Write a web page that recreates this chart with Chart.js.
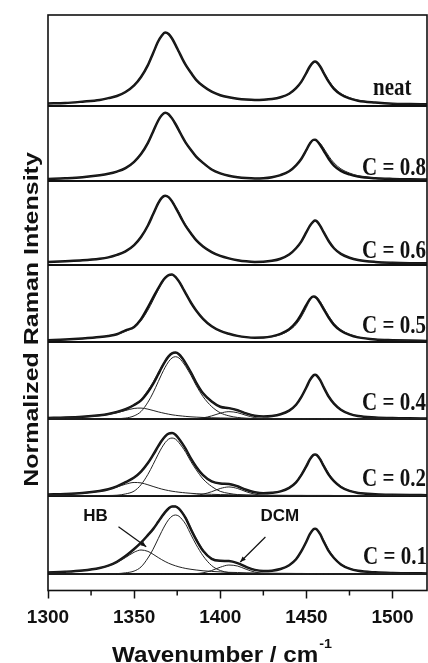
<!DOCTYPE html>
<html>
<head>
<meta charset="utf-8">
<script src="https://cdn.jsdelivr.net/npm/chart.js@4.4.1/dist/chart.umd.min.js"></script>
<style>
  html, body { margin: 0; padding: 0; background: #fff; }
  canvas { display: block; }
</style>
</head>
<body>
<canvas id="ramanChart" width="428" height="663"></canvas>
<script>
// Raman shift grid (cm-1) shared by every trace
const wavenumber = [
  1300, 1310, 1320, 1330, 1335, 1340, 1345, 1350, 1354, 1358,
  1361, 1364, 1366, 1368, 1370, 1372, 1374, 1376, 1378, 1380,
  1383, 1386, 1390, 1395, 1400, 1405, 1410, 1415, 1420, 1425,
  1430, 1435, 1440, 1444, 1447, 1450, 1452, 1454, 1455, 1456,
  1458, 1460, 1463, 1466, 1470, 1475, 1480, 1490, 1500, 1510,
  1520
];
const majorTicks = [1300, 1350, 1400, 1450, 1500];
const minorTicks = [1325, 1375, 1425, 1475];
const panelLabels = ['neat', 'C = 0.8', 'C = 0.6', 'C = 0.5', 'C = 0.4', 'C = 0.2', 'C = 0.1'];

// measured spectra (thick) and fits (thin), normalized intensity
const neatSpec = [
  0.032, 0.038, 0.058, 0.083, 0.108, 0.138, 0.195, 0.290, 0.410, 0.580,
  0.750, 0.920, 1.000, 1.045, 1.025, 0.960, 0.870, 0.770, 0.670, 0.580,
  0.470, 0.370, 0.280, 0.200, 0.150, 0.120, 0.100, 0.088, 0.082, 0.085,
  0.095, 0.120, 0.170, 0.250, 0.340, 0.470, 0.560, 0.620, 0.630, 0.620,
  0.560, 0.470, 0.340, 0.240, 0.160, 0.105, 0.072, 0.045, 0.028, 0.024,
  0.021
];
const neatFit = [
  0.030, 0.040, 0.056, 0.082, 0.106, 0.140, 0.195, 0.285, 0.405, 0.575,
  0.745, 0.915, 0.995, 1.040, 1.020, 0.960, 0.875, 0.775, 0.675, 0.585,
  0.475, 0.375, 0.282, 0.200, 0.150, 0.118, 0.098, 0.087, 0.082, 0.084,
  0.094, 0.118, 0.168, 0.248, 0.338, 0.465, 0.555, 0.615, 0.625, 0.618,
  0.565, 0.480, 0.360, 0.260, 0.175, 0.115, 0.078, 0.045, 0.030, 0.023,
  0.020
];
const c08Spec = [
  0.025, 0.035, 0.050, 0.078, 0.098, 0.130, 0.180, 0.270, 0.380, 0.540,
  0.700, 0.860, 0.935, 0.970, 0.950, 0.890, 0.810, 0.720, 0.625, 0.540,
  0.440, 0.345, 0.255, 0.160, 0.105, 0.070, 0.050, 0.038, 0.032, 0.035,
  0.050, 0.080, 0.135, 0.220, 0.310, 0.440, 0.530, 0.583, 0.585, 0.572,
  0.510, 0.430, 0.310, 0.215, 0.140, 0.090, 0.060, 0.035, 0.025, 0.020,
  0.018
];
const c08Fit = [
  0.024, 0.034, 0.050, 0.077, 0.097, 0.128, 0.178, 0.268, 0.378, 0.538,
  0.700, 0.860, 0.935, 0.968, 0.950, 0.892, 0.815, 0.725, 0.630, 0.545,
  0.443, 0.348, 0.257, 0.162, 0.105, 0.070, 0.050, 0.038, 0.032, 0.034,
  0.048, 0.078, 0.130, 0.215, 0.305, 0.435, 0.528, 0.580, 0.585, 0.580,
  0.535, 0.465, 0.350, 0.255, 0.170, 0.110, 0.072, 0.040, 0.026, 0.020,
  0.018
];
const c06Spec = [
  0.040, 0.050, 0.062, 0.085, 0.105, 0.140, 0.190, 0.280, 0.395, 0.560,
  0.720, 0.880, 0.955, 0.985, 0.965, 0.905, 0.820, 0.730, 0.635, 0.550,
  0.445, 0.350, 0.260, 0.180, 0.125, 0.090, 0.065, 0.048, 0.040, 0.042,
  0.055, 0.085, 0.145, 0.235, 0.330, 0.465, 0.555, 0.615, 0.630, 0.620,
  0.555, 0.465, 0.335, 0.235, 0.155, 0.100, 0.068, 0.040, 0.028, 0.022,
  0.020
];
const c06Fit = [
  0.038, 0.048, 0.060, 0.083, 0.103, 0.138, 0.188, 0.278, 0.392, 0.556,
  0.716, 0.876, 0.952, 0.984, 0.968, 0.915, 0.835, 0.748, 0.652, 0.565,
  0.458, 0.360, 0.266, 0.183, 0.126, 0.090, 0.065, 0.048, 0.040, 0.042,
  0.055, 0.084, 0.142, 0.230, 0.325, 0.460, 0.552, 0.613, 0.628, 0.620,
  0.560, 0.472, 0.342, 0.240, 0.158, 0.102, 0.069, 0.040, 0.028, 0.022,
  0.020
];
const c05Spec = [
  0.030, 0.040, 0.055, 0.075, 0.090, 0.115, 0.170, 0.220, 0.330, 0.500,
  0.640, 0.770, 0.855, 0.920, 0.960, 0.968, 0.935, 0.870, 0.785, 0.695,
  0.565, 0.455, 0.335, 0.228, 0.162, 0.122, 0.092, 0.074, 0.066, 0.068,
  0.085, 0.120, 0.185, 0.285, 0.400, 0.535, 0.615, 0.655, 0.650, 0.630,
  0.560, 0.475, 0.350, 0.250, 0.165, 0.105, 0.070, 0.040, 0.030, 0.024,
  0.020
];
const c05Fit = [
  0.028, 0.038, 0.052, 0.073, 0.089, 0.115, 0.155, 0.220, 0.310, 0.460,
  0.600, 0.750, 0.840, 0.912, 0.958, 0.970, 0.940, 0.878, 0.795, 0.705,
  0.575, 0.462, 0.340, 0.230, 0.163, 0.122, 0.092, 0.073, 0.064, 0.065,
  0.080, 0.110, 0.170, 0.255, 0.360, 0.500, 0.598, 0.652, 0.660, 0.645,
  0.585, 0.500, 0.375, 0.270, 0.180, 0.115, 0.075, 0.042, 0.030, 0.024,
  0.020
];
const c04Spec = [
  0.016, 0.021, 0.032, 0.054, 0.072, 0.100, 0.139, 0.200, 0.267, 0.386,
  0.501, 0.641, 0.737, 0.824, 0.894, 0.938, 0.949, 0.926, 0.868, 0.792,
  0.664, 0.521, 0.367, 0.250, 0.175, 0.155, 0.125, 0.080, 0.047, 0.036,
  0.043, 0.067, 0.120, 0.204, 0.313, 0.453, 0.555, 0.622, 0.631, 0.622,
  0.555, 0.455, 0.318, 0.220, 0.133, 0.073, 0.042, 0.022, 0.013, 0.009,
  0.007
];
const c04Fit = [
  0.016, 0.022, 0.033, 0.055, 0.073, 0.102, 0.142, 0.205, 0.280, 0.410,
  0.525, 0.660, 0.750, 0.835, 0.900, 0.940, 0.945, 0.920, 0.862, 0.788,
  0.662, 0.520, 0.368, 0.252, 0.178, 0.158, 0.128, 0.083, 0.048, 0.036,
  0.043, 0.066, 0.118, 0.200, 0.308, 0.448, 0.550, 0.618, 0.628, 0.620,
  0.558, 0.460, 0.325, 0.226, 0.137, 0.075, 0.043, 0.022, 0.013, 0.009,
  0.007
];
const c02Spec = [
  0.017, 0.024, 0.038, 0.067, 0.092, 0.134, 0.193, 0.259, 0.344, 0.466,
  0.582, 0.707, 0.785, 0.847, 0.887, 0.894, 0.871, 0.815, 0.744, 0.665,
  0.530, 0.415, 0.294, 0.205, 0.175, 0.168, 0.135, 0.085, 0.050, 0.035,
  0.042, 0.062, 0.112, 0.191, 0.293, 0.423, 0.518, 0.582, 0.590, 0.582,
  0.518, 0.425, 0.298, 0.207, 0.125, 0.068, 0.040, 0.022, 0.014, 0.010,
  0.008
];
const c02Fit = [
  0.016, 0.023, 0.037, 0.066, 0.091, 0.132, 0.190, 0.256, 0.340, 0.462,
  0.580, 0.705, 0.784, 0.846, 0.886, 0.892, 0.868, 0.812, 0.742, 0.663,
  0.530, 0.416, 0.296, 0.207, 0.177, 0.170, 0.137, 0.086, 0.050, 0.035,
  0.043, 0.064, 0.116, 0.200, 0.305, 0.435, 0.525, 0.583, 0.588, 0.585,
  0.530, 0.442, 0.318, 0.222, 0.135, 0.073, 0.042, 0.022, 0.014, 0.010,
  0.008
];
const c01Spec = [
  0.023, 0.033, 0.051, 0.087, 0.120, 0.174, 0.256, 0.357, 0.448, 0.556,
  0.641, 0.746, 0.818, 0.884, 0.936, 0.966, 0.966, 0.935, 0.873, 0.794,
  0.636, 0.491, 0.332, 0.217, 0.188, 0.184, 0.155, 0.101, 0.059, 0.043,
  0.048, 0.071, 0.126, 0.211, 0.323, 0.465, 0.568, 0.638, 0.647, 0.638,
  0.568, 0.466, 0.326, 0.228, 0.137, 0.076, 0.045, 0.024, 0.015, 0.011,
  0.008
];
const c01Fit = [
  0.022, 0.032, 0.050, 0.086, 0.119, 0.172, 0.252, 0.352, 0.444, 0.552,
  0.638, 0.744, 0.817, 0.884, 0.936, 0.967, 0.968, 0.940, 0.882, 0.805,
  0.655, 0.510, 0.345, 0.222, 0.190, 0.185, 0.156, 0.102, 0.060, 0.043,
  0.048, 0.070, 0.124, 0.208, 0.318, 0.460, 0.565, 0.636, 0.646, 0.640,
  0.578, 0.482, 0.342, 0.242, 0.146, 0.080, 0.047, 0.025, 0.015, 0.011,
  0.008
];

// fitted components: hydrogen-bonded (HB), free, and DCM bands
const c04Hb = [
  0.012, 0.017, 0.027, 0.047, 0.064, 0.090, 0.122, 0.151, 0.156, 0.141,
  0.122, 0.102, 0.090, 0.079, 0.069, 0.060, 0.053, 0.047, 0.042, 0.037,
  0.031, 0.027, 0.022, 0.018, 0.015, 0.012, 0.010, 0.008, 0.007, 0.006,
  0.005, 0.005, 0.004, 0.004, 0.003, 0.003, 0.003, 0.003, 0.003, 0.003,
  0.003, 0.003, 0.002, 0.002, 0.002, 0.002, 0.002, 0.002, 0.001, 0.001,
  0.001
];
const c04Main = [
  0, 0, 0, 0.001, 0.002, 0.005, 0.013, 0.045, 0.107, 0.240,
  0.374, 0.534, 0.641, 0.739, 0.819, 0.872, 0.890, 0.872, 0.819, 0.748,
  0.623, 0.481, 0.320, 0.178, 0.089, 0.045, 0.022, 0.011, 0.005, 0.002,
  0.001, 0, 0, 0, 0, 0, 0, 0, 0, 0,
  0, 0, 0, 0, 0, 0, 0, 0, 0, 0,
  0
];
const c04Dcm = [
  0, 0, 0, 0, 0, 0, 0, 0, 0, 0,
  0, 0, 0, 0, 0, 0, 0, 0, 0, 0,
  0.002, 0.005, 0.016, 0.044, 0.083, 0.105, 0.090, 0.052, 0.020, 0.005,
  0.001, 0, 0, 0, 0, 0, 0, 0, 0, 0,
  0, 0, 0, 0, 0, 0, 0, 0, 0, 0,
  0
];
const c02Hb = [
  0.015, 0.022, 0.036, 0.064, 0.089, 0.124, 0.164, 0.189, 0.183, 0.156,
  0.132, 0.109, 0.095, 0.083, 0.073, 0.064, 0.057, 0.050, 0.045, 0.040,
  0.034, 0.029, 0.024, 0.020, 0.016, 0.014, 0.012, 0.010, 0.009, 0.007,
  0.007, 0.006, 0.005, 0.005, 0.005, 0.004, 0.004, 0.004, 0.004, 0.004,
  0.004, 0.004, 0.004, 0.003, 0.003, 0.003, 0.003, 0.003, 0.003, 0.002,
  0.002
];
const c02Main = [
  0, 0, 0, 0.001, 0.003, 0.007, 0.025, 0.066, 0.157, 0.305,
  0.445, 0.593, 0.684, 0.758, 0.808, 0.824, 0.808, 0.758, 0.692, 0.618,
  0.486, 0.371, 0.239, 0.132, 0.062, 0.033, 0.016, 0.008, 0.004, 0.002,
  0.001, 0, 0, 0, 0, 0, 0, 0, 0, 0,
  0, 0, 0, 0, 0, 0, 0, 0, 0, 0,
  0
];
const c02Dcm = [
  0, 0, 0, 0, 0, 0, 0, 0, 0, 0,
  0, 0, 0, 0, 0, 0, 0, 0, 0, 0,
  0.003, 0.007, 0.022, 0.057, 0.103, 0.125, 0.103, 0.057, 0.022, 0.006,
  0.001, 0, 0, 0, 0, 0, 0, 0, 0, 0,
  0, 0, 0, 0, 0, 0, 0, 0, 0, 0,
  0
];
const c01Hb = [
  0.021, 0.031, 0.049, 0.084, 0.117, 0.166, 0.235, 0.311, 0.343, 0.323,
  0.282, 0.235, 0.205, 0.178, 0.154, 0.134, 0.117, 0.102, 0.090, 0.079,
  0.067, 0.057, 0.046, 0.037, 0.030, 0.024, 0.021, 0.017, 0.015, 0.013,
  0.011, 0.010, 0.009, 0.008, 0.008, 0.007, 0.007, 0.007, 0.007, 0.007,
  0.007, 0.006, 0.006, 0.006, 0.005, 0.005, 0.004, 0.004, 0.003, 0.003,
  0.002
];
const c01Main = [
  0, 0, 0, 0, 0, 0.005, 0.017, 0.042, 0.101, 0.228,
  0.354, 0.506, 0.607, 0.700, 0.776, 0.826, 0.843, 0.826, 0.776, 0.708,
  0.560, 0.420, 0.260, 0.120, 0.050, 0.020, 0.008, 0.003, 0.001, 0,
  0, 0, 0, 0, 0, 0, 0, 0, 0, 0,
  0, 0, 0, 0, 0, 0, 0, 0, 0, 0,
  0
];
const c01Dcm = [
  0, 0, 0, 0, 0, 0, 0, 0, 0, 0,
  0, 0, 0, 0, 0, 0, 0, 0, 0, 0,
  0.002, 0.006, 0.017, 0.050, 0.097, 0.128, 0.114, 0.068, 0.028, 0.008,
  0.001, 0, 0, 0, 0, 0, 0, 0, 0, 0,
  0, 0, 0, 0, 0, 0, 0, 0, 0, 0,
  0
];

// ---- layout (pixels) ----
const AREA = { left: 48, top: 15, right: 427, bottom: 590.5 };
const baselinePx = [105.7, 180.7, 264.7, 342.3, 419, 495.7, 574];
const PX_PER_UNIT = 70;
const labelX = [373, 362, 362, 362, 362, 362, 363];
const labelLift = [10.7, 5.5, 6.4, 9, 9, 9.7, 10];
const INK = '#111';

const panels = [
  { spec: neatSpec, fit: neatFit, parts: [] },
  { spec: c08Spec, fit: c08Fit, parts: [] },
  { spec: c06Spec, fit: c06Fit, parts: [] },
  { spec: c05Spec, fit: c05Fit, parts: [] },
  { spec: c04Spec, fit: c04Fit, parts: [c04Hb, c04Main, c04Dcm] },
  { spec: c02Spec, fit: c02Fit, parts: [c02Hb, c02Main, c02Dcm] },
  { spec: c01Spec, fit: c01Fit, parts: [c01Hb, c01Main, c01Dcm] }
];

const toPoints = arr => wavenumber.map((x, i) => ({ x: x, y: arr[i] }));

const datasets = [];
const scales = {
  x: {
    type: 'linear',
    min: 1300,
    max: 1520,
    afterBuildTicks: s => { s.ticks = majorTicks.map(v => ({ value: v })); },
    afterFit: s => { s.height = 663 - AREA.bottom; },
    ticks: {
      autoSkip: false,
      maxRotation: 0,
      padding: 8,
      color: INK,
      font: { family: 'Arial, "Liberation Sans", sans-serif', weight: 'bold', size: 19 },
      callback: v => String(v)
    },
    grid: { drawOnChartArea: false, drawTicks: true, tickLength: 8, tickWidth: 1.5, tickColor: INK },
    border: { display: false }
  }
};

panels.forEach((p, k) => {
  const id = 'y' + k;
  const b = baselinePx[k];
  scales[id] = {
    type: 'linear',
    position: 'left',
    min: -(AREA.bottom - b) / PX_PER_UNIT,
    max: (b - AREA.top) / PX_PER_UNIT,
    afterBuildTicks: s => { s.ticks = [{ value: 0 }]; },
    ticks: { display: false },
    border: { display: false },
    grid: { drawTicks: false, color: INK, lineWidth: 2 }
  };
  p.parts.forEach(part => {
    datasets.push({ data: toPoints(part), yAxisID: id, borderWidth: 1, borderColor: '#222' });
  });
  datasets.push({ data: toPoints(p.fit), yAxisID: id, borderWidth: 1, borderColor: '#222' });
  datasets.push({ data: toPoints(p.spec), yAxisID: id, borderWidth: 2.5, borderColor: INK });
});

// HB / DCM notes in the bottom panel, in its data units
const notes = [
  { text: 'HB', x: 1320.5, y: 0.757, from: [1340.9, 0.676], to: [1357, 0.39] },
  { text: 'DCM', x: 1423.3, y: 0.757, from: [1426.2, 0.529], to: [1411.6, 0.171] }
];

function arrow(ctx, x1, y1, x2, y2) {
  const ang = Math.atan2(y2 - y1, x2 - x1);
  ctx.beginPath();
  ctx.moveTo(x1, y1);
  ctx.lineTo(x2, y2);
  ctx.stroke();
  ctx.beginPath();
  ctx.moveTo(x2, y2);
  ctx.lineTo(x2 - 6 * Math.cos(ang - 0.4), y2 - 6 * Math.sin(ang - 0.4));
  ctx.lineTo(x2 - 6 * Math.cos(ang + 0.4), y2 - 6 * Math.sin(ang + 0.4));
  ctx.closePath();
  ctx.fill();
}

const decorations = {
  id: 'decorations',
  afterDraw(chart) {
    const { ctx, chartArea: a, scales: sc } = chart;
    ctx.save();
    ctx.strokeStyle = INK;
    ctx.fillStyle = INK;

    // frame
    ctx.lineWidth = 1.6;
    ctx.strokeRect(a.left, a.top, a.right - a.left, a.bottom - a.top);

    // minor ticks
    ctx.lineWidth = 1.5;
    minorTicks.forEach(v => {
      const px = sc.x.getPixelForValue(v);
      ctx.beginPath();
      ctx.moveTo(px, a.bottom);
      ctx.lineTo(px, a.bottom + 5);
      ctx.stroke();
    });

    // panel labels
    ctx.font = 'bold 21px "Liberation Serif", "Times New Roman", serif';
    ctx.textAlign = 'left';
    ctx.textBaseline = 'alphabetic';
    panelLabels.forEach((t, k) => {
      const y = sc['y' + k].getPixelForValue(0) - labelLift[k];
      ctx.save();
      ctx.translate(labelX[k], y);
      ctx.scale(1, 1.17);
      ctx.fillText(t, 0, 0);
      ctx.restore();
    });

    // band notes with arrows
    const ys = sc.y6;
    ctx.font = 'bold 17px Arial, "Liberation Sans", sans-serif';
    ctx.lineWidth = 1.2;
    notes.forEach(n => {
      ctx.fillText(n.text, sc.x.getPixelForValue(n.x), ys.getPixelForValue(n.y));
      arrow(ctx,
        sc.x.getPixelForValue(n.from[0]), ys.getPixelForValue(n.from[1]),
        sc.x.getPixelForValue(n.to[0]), ys.getPixelForValue(n.to[1]));
    });

    // y title
    ctx.save();
    ctx.translate(37.5, 319.5);
    ctx.rotate(-Math.PI / 2);
    ctx.scale(1.19, 1);
    ctx.textAlign = 'center';
    ctx.font = 'bold 21px Arial, "Liberation Sans", sans-serif';
    ctx.fillText('Normalized Raman Intensity', 0, 0);
    ctx.restore();

    // x title with superscript
    ctx.save();
    ctx.translate(112, 662);
    ctx.scale(1.1, 1);
    ctx.textAlign = 'left';
    ctx.font = 'bold 22px Arial, "Liberation Sans", sans-serif';
    const main = 'Wavenumber / cm';
    ctx.fillText(main, 0, 0);
    const w = ctx.measureText(main).width;
    ctx.font = 'bold 13px Arial, "Liberation Sans", sans-serif';
    ctx.fillText('-1', w + 1, -14);
    ctx.restore();

    ctx.restore();
  }
};

new Chart(document.getElementById('ramanChart'), {
  type: 'line',
  data: { datasets: datasets },
  options: {
    responsive: false,
    animation: false,
    devicePixelRatio: 1,
    layout: { padding: { left: AREA.left, top: AREA.top, right: 428 - AREA.right, bottom: 0 } },
    elements: {
      point: { radius: 0 },
      line: { cubicInterpolationMode: 'monotone', fill: false }
    },
    plugins: { legend: { display: false }, tooltip: { enabled: false } },
    scales: scales
  },
  plugins: [decorations]
});
</script>
</body>
</html>
